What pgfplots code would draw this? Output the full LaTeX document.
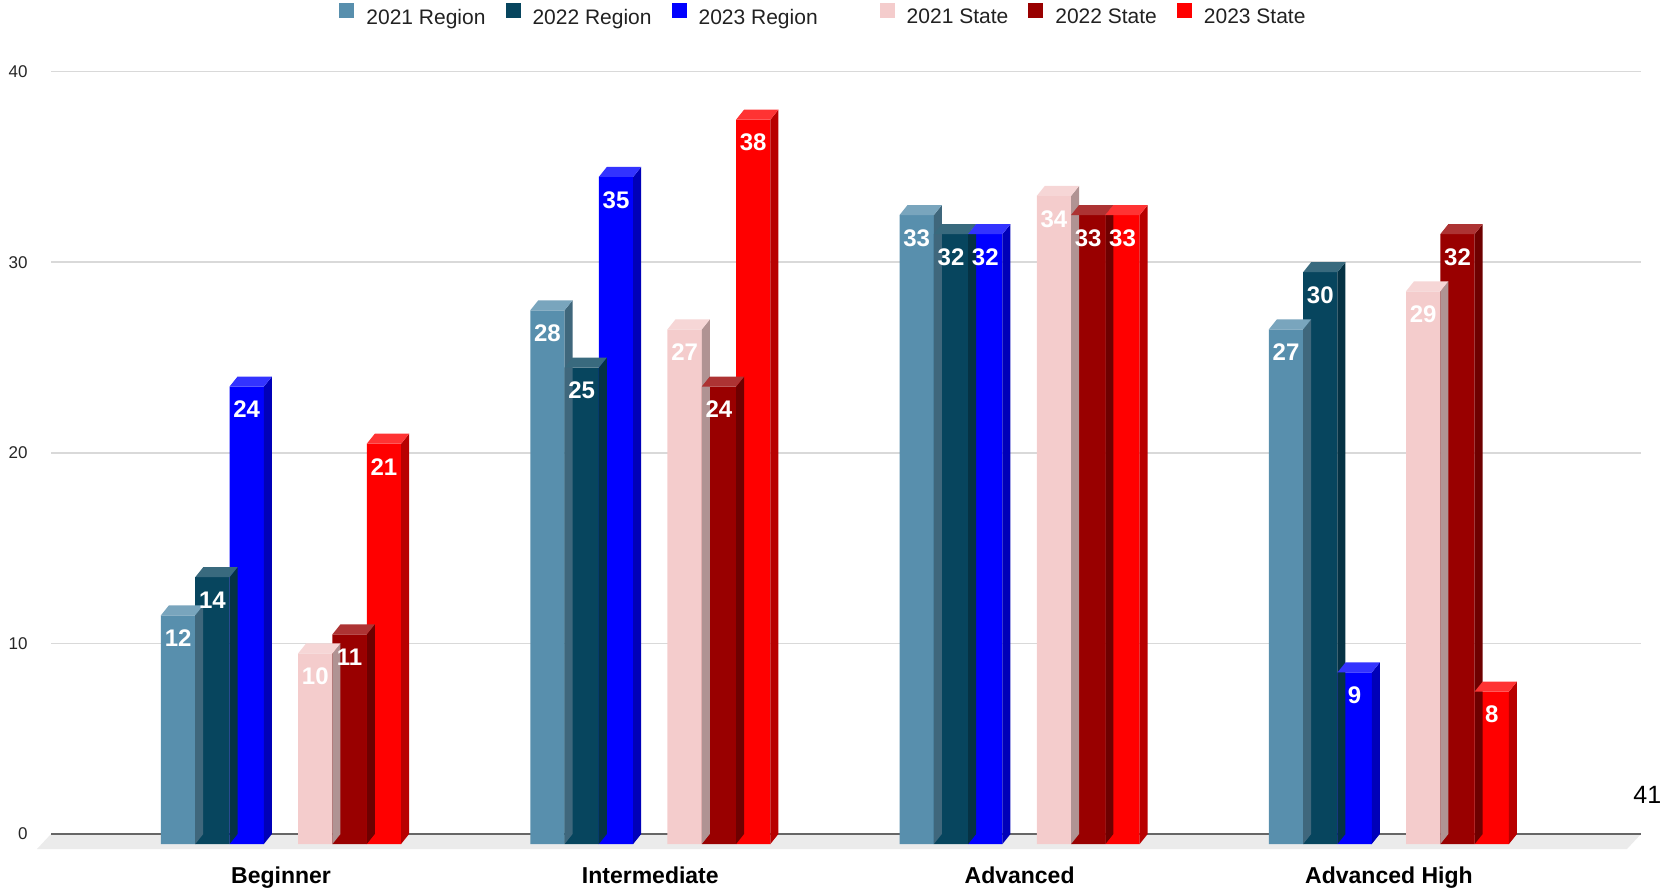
\documentclass[border=0pt]{standalone}
\usepackage{pgfplots}
\usepackage{pgfplotstable}
\pgfplotsset{compat=1.18}
\usepackage{fontspec}
\setmainfont{Liberation Sans}

\definecolor{reg21}{HTML}{588FAD}
\definecolor{reg22}{HTML}{07455E}
\definecolor{reg23}{HTML}{0000FF}
\definecolor{sta21}{HTML}{F4CCCC}
\definecolor{sta22}{HTML}{990000}
\definecolor{sta23}{HTML}{FF0000}
\definecolor{gridc}{HTML}{D9D9D9}
\definecolor{floorc}{HTML}{EBEBEB}
\definecolor{zeroc}{HTML}{666666}

% scores per level: region and state, 2021-2023
\pgfplotstableread{
cat r21 r22 r23 s21 s22 s23
0   12  14  24  10  11  21
1   28  25  35  27  24  38
2   33  32  32  34  33  33
3   27  30  9   29  32  8
}\scores

% half bar width and depth of the 3D extrusion
\def\hw{8.575pt}
\def\dx{4pt}
\def\dy{5pt}

\pgfplotsset{
  front/.style={ybar, bar width=17.15pt, bar shift=0pt, fill=#1, draw=none, forget plot,
    nodes near coords, nodes near coords align={center},
    every node near coord/.append style={text=white,
      font=\fontsize{12}{14}\selectfont\bfseries, anchor=center, yshift=-11.5pt}},
  faces/.style={forget plot, scatter, only marks, mark=*, mark size=0.01pt,
    mark options={draw opacity=0, fill opacity=0},
    visualization depends on={rawy \as \barh},
    scatter/@pre marker code/.code={%
      \pgfplotspointaxisxy{0}{\barh}\pgfgetlastxy{\fcXa}{\fcYa}%
      \pgfplotspointaxisxy{0}{0}\pgfgetlastxy{\fcXb}{\fcYb}%
      \pgfmathsetlengthmacro\fcH{\fcYa-\fcYb}%
      \fill[#1!72!black, fill opacity=1] (\hw,0pt) -- (\hw+\dx,\dy) -- (\hw+\dx,\dy-\fcH) -- (\hw,-\fcH) -- cycle;
      \fill[#1!80!white, fill opacity=1] (-\hw,0pt) -- (\hw,0pt) -- (\hw+\dx,\dy) -- (-\hw+\dx,\dy) -- cycle;
    },
    scatter/@post marker code/.code={}},
}

\begin{document}
\begin{tikzpicture}
\begin{axis}[
  at={(0pt,0pt)}, anchor=south west,
  scale only axis, width=795pt, height=383.7pt,
  xmin=-0.6607, xmax=3.6447, ymin=-0.262, ymax=40,
  clip=false,
  axis line style={draw=none}, tick style={draw=none}, major tick length=0pt,
  xtick={0,1,2,3},
  xticklabels={Beginner,Intermediate,Advanced,Advanced High},
  xticklabel style={font=\fontsize{11.5}{13}\selectfont\bfseries, text=black, anchor=base, yshift=-17pt},
  ytick={0,10,20,30,40},
  yticklabel style={font=\fontsize{8.5}{10}\selectfont, text=black!85, anchor=east,
    inner sep=0pt, xshift=-4.5pt, yshift=5pt},
  /pgf/number format/assume math mode=true,
  legend columns=7,
  legend style={draw=none, fill=none, at={(0.494,1.0868)}, anchor=center,
    font=\fontsize{10.5}{12}\selectfont, text=black!87, inner sep=0pt,
    nodes={inner sep=0pt},
    /tikz/every odd column/.append style={column sep=6pt},
    /tikz/every even column/.append style={column sep=10pt}},
  legend image code/.code={\fill[#1, draw=none] (0pt,0pt) rectangle (7.5pt,7.5pt);},
]
% floor and back-wall grid
\fill[floorc] (rel axis cs:0,0) -- (rel axis cs:1,0)
  -- ([shift={(7pt,7.5pt)}]rel axis cs:1,0) -- ([shift={(7pt,7.5pt)}]rel axis cs:0,0) -- cycle;
\pgfplotsinvokeforeach{10,20,30,40}{
  \draw[gridc, line width=0.75pt] ([shift={(7pt,5pt)}]axis cs:-0.6607,#1)
    -- ([shift={(7pt,5pt)}]axis cs:3.6447,#1);
}
\draw[zeroc, line width=0.75pt] ([shift={(7pt,5pt)}]axis cs:-0.6607,0)
  -- ([shift={(7pt,5pt)}]axis cs:3.6447,0);

% legend (blank slot between the region and state groups)
\addlegendimage{fill=reg21}\addlegendentry{2021 Region}
\addlegendimage{fill=reg22}\addlegendentry{2022 Region}
\addlegendimage{fill=reg23}\addlegendentry{2023 Region}
\addlegendimage{draw=none, fill=none, legend image code/.code={\path[draw=none, fill=none] (0pt,0pt) rectangle (4pt,0pt);}}\addlegendentry{}
\addlegendimage{fill=sta21}\addlegendentry{2021 State}
\addlegendimage{fill=sta22}\addlegendentry{2022 State}
\addlegendimage{fill=sta23}\addlegendentry{2023 State}

% bars: front face, then top and side
\addplot[front=reg21] table[x expr=\thisrow{cat}-0.27864, y=r21] {\scores};
\addplot[faces=reg21] table[x expr=\thisrow{cat}-0.27864, y=r21] {\scores};
\addplot[front=reg22] table[x expr=\thisrow{cat}-0.18576, y=r22] {\scores};
\addplot[faces=reg22] table[x expr=\thisrow{cat}-0.18576, y=r22] {\scores};
\addplot[front=reg23] table[x expr=\thisrow{cat}-0.09288, y=r23] {\scores};
\addplot[faces=reg23] table[x expr=\thisrow{cat}-0.09288, y=r23] {\scores};
\addplot[front=sta21] table[x expr=\thisrow{cat}+0.09288, y=s21] {\scores};
\addplot[faces=sta21] table[x expr=\thisrow{cat}+0.09288, y=s21] {\scores};
\addplot[front=sta22] table[x expr=\thisrow{cat}+0.18576, y=s22] {\scores};
\addplot[faces=sta22] table[x expr=\thisrow{cat}+0.18576, y=s22] {\scores};
\addplot[front=sta23] table[x expr=\thisrow{cat}+0.27864, y=s23] {\scores};
\addplot[faces=sta23] table[x expr=\thisrow{cat}+0.27864, y=s23] {\scores};
\end{axis}
\node[anchor=base west, inner sep=0pt, font=\fontsize{12.5}{14}\selectfont] at (798pt,23pt) {41};
\pgfresetboundingbox
\path[use as bounding box] (-18.5pt,-20pt) rectangle (813pt,424.5pt);
\end{tikzpicture}
\end{document}
